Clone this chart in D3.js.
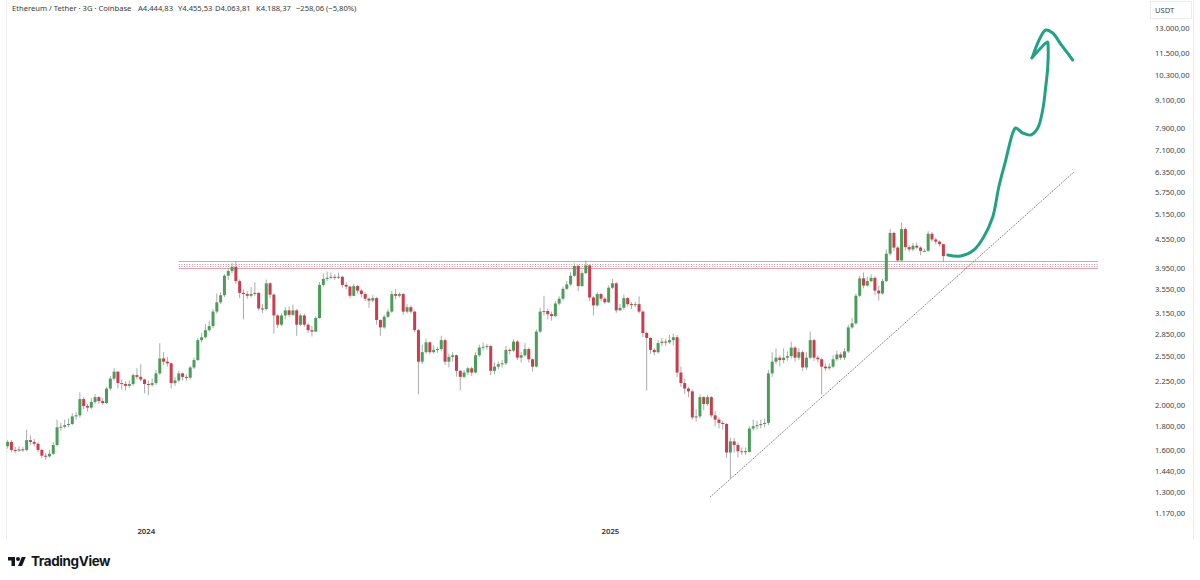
<!DOCTYPE html>
<html><head><meta charset="utf-8">
<script src="https://cdn.jsdelivr.net/npm/d3@7"></script>
<style>
html,body{margin:0;padding:0;background:#fff;}
svg{display:block;}
</style></head><body>
<svg id="chart" width="1200" height="580"></svg>
<script>
// ---------- DATA ----------
const startDate = "2023-09-14";   // first 3-day candle
const stepDays = 3;
const firstOpen = 1630;
const closes = [
1665,1600,1595,1605,1600,1680,1665,1650,1600,1555,
1550,1570,1640,1790,1795,1810,1820,1890,1900,2060,
1990,1975,2030,2080,2040,2020,2170,2280,2360,2230,
2220,2200,2220,2320,2300,2270,2220,2210,2230,2340,
2520,2480,2460,2230,2260,2340,2300,2290,2410,2500,
2760,2800,2900,2960,3180,3330,3450,3800,3890,3970,
3700,3490,3470,3440,3470,3490,3230,3220,3660,3460,
3120,2980,3120,3200,3130,3200,2980,3120,2980,2900,
2880,3080,3630,3740,3760,3780,3770,3780,3630,3600,
3440,3610,3530,3470,3390,3360,3400,3050,2940,3100,
3180,3470,3440,3470,3180,3250,3180,2900,2480,2600,
2730,2600,2630,2640,2760,2480,2540,2560,2370,2300,
2350,2400,2350,2560,2660,2670,2680,2370,2420,2450,
2460,2630,2620,2740,2530,2560,2640,2510,2420,2880,
3180,3190,3140,3110,3310,3390,3560,3640,3800,3990,
3610,3850,4000,3410,3280,3470,3390,3330,3580,3660,
3200,3240,3400,3300,3290,3300,3180,2860,2790,2630,
2600,2720,2740,2730,2760,2800,2350,2230,2170,2140,
1880,1890,2080,2010,2080,1900,1860,1830,1820,1580,
1670,1640,1590,1590,1585,1780,1800,1810,1820,1830,
2340,2480,2530,2500,2530,2550,2660,2530,2600,2410,
2530,2760,2530,2510,2420,2400,2420,2510,2570,2530,
2610,2940,3000,3440,3750,3620,3700,3760,3530,3480,
3700,4240,4700,4370,4100,4790,4380,4330,4410,4370,
4300,4300,4680,4550,4500,4444.83,4188.37];
const highs = [
1680,1680,1625,1630,1625,1770,1720,1690,1660,1610,
1575,1600,1665,1860,1830,1860,1870,1920,1930,2130,
2080,2010,2070,2110,2090,2070,2190,2310,2400,2370,
2270,2250,2260,2340,2400,2450,2280,2260,2280,2380,
2720,2600,2540,2470,2300,2370,2350,2330,2430,2530,
2790,2860,2990,3040,3220,3480,3500,3830,3940,4050,
4090,3730,3550,3520,3590,3680,3500,3300,3730,3680,
3480,3140,3150,3250,3260,3290,3220,3150,3150,3000,
2960,3110,3680,3840,3880,3860,3830,3860,3800,3680,
3620,3650,3630,3560,3500,3410,3450,3420,3060,3130,
3220,3520,3560,3500,3490,3300,3280,3200,2920,2700,
2780,2740,2690,2670,2820,2780,2580,2600,2570,2380,
2380,2420,2420,2600,2700,2730,2710,2690,2470,2480,
2500,2680,2650,2770,2760,2600,2720,2660,2520,2910,
3240,3440,3230,3180,3350,3430,3600,3700,3870,4040,
4010,3900,4100,4020,3430,3500,3490,3420,3620,3740,
3680,3300,3460,3420,3330,3340,3430,3200,2880,2800,
2650,2760,2790,2780,2830,2850,2830,2420,2280,2190,
2160,1960,2110,2090,2100,2090,1940,1880,1850,1830,
1700,1700,1660,1620,1620,1800,1860,1850,1860,1870,
2380,2600,2650,2560,2650,2610,2740,2680,2650,2620,
2600,2880,2780,2560,2530,2460,2460,2560,2620,2600,
2650,2980,3080,3480,3800,3860,3780,3830,3790,3620,
3740,4330,4790,4730,4400,4950,4830,4420,4470,4480,
4400,4350,4740,4720,4590,4530,4455.53];
const lows = [
1610,1585,1575,1585,1585,1590,1640,1630,1580,1535,
1525,1540,1560,1630,1760,1780,1790,1810,1860,1880,
1960,1935,1960,2010,2010,2000,2010,2150,2260,2170,
2160,2150,2180,2200,2270,2250,2120,2100,2190,2210,
2320,2440,2420,2170,2200,2240,2260,2260,2270,2390,
2490,2730,2780,2880,2930,3150,3300,3420,3720,3850,
3650,3400,3060,3390,3410,3440,3200,3160,3200,3400,
2850,2930,2960,3060,3100,3110,2820,2960,2950,2860,
2810,2870,3070,3600,3700,3730,3720,3740,3580,3550,
3400,3430,3480,3410,3350,3240,3330,2980,2820,2920,
3080,3160,3380,3410,3130,3150,3150,2870,2110,2450,
2580,2570,2580,2590,2610,2440,2410,2480,2300,2150,
2280,2320,2310,2340,2540,2620,2630,2320,2330,2390,
2410,2440,2570,2600,2500,2470,2540,2470,2360,2410,
2860,3120,3060,3040,3090,3280,3360,3540,3610,3780,
3520,3600,3830,3350,3120,3260,3350,3300,3320,3560,
3160,3190,3210,3260,3220,3250,3150,2800,2150,2580,
2560,2580,2680,2680,2710,2690,2300,2190,2110,2080,
1860,1840,1870,1950,1990,1880,1800,1780,1770,1540,
1385,1580,1540,1560,1560,1580,1760,1770,1780,1790,
1810,2300,2450,2420,2460,2490,2520,2480,2500,2370,
2380,2510,2490,2470,2110,2370,2380,2400,2490,2500,
2500,2590,2920,2980,3420,3570,3600,3680,3450,3360,
3460,3680,4200,4300,4060,4080,4310,4280,4290,4330,
4210,4270,4280,4500,4440,4390,4063.81];

const yTicks = [13000,11500,10300,9100,7900,7100,6350,5750,5150,4550,3950,3550,3150,2850,2550,2250,2000,1800,1600,1440,1300,1170];
const xTicks = ["2024-01-01","2025-01-01"];
const headerParts = ["Ethereum / Tether · 3G · Coinbase","A4.444,83","Y4.455,53","D4.063,81","K4.188,37","−258,06 (−5,80%)"];
const currencyLabel = "USDT";

// resistance zone
const zoneDates = ["2024-01-27","2026-01-21"];
const zoneLevels = [4080, 4021, 3989, 3950];
// rising trend line
const trendDates = ["2025-03-21","2026-01-02"];
const trendPrices = [1266, 6360];
// hand-drawn projection arrow (days after 2025-01-01, price)
const arrowShaftDays   = [266.5,276.7,287,294.8,301.9,306.7,312.2,317.7,320,325.6,331.9,337.4,341.3,343.7,345.3,345.6,345.2,339.8,332.7];
const arrowShaftPrices = [4212,4191,4317,4606,5086,5903,6750,7718,7913,7718,7643,7913,8652,9698,10712,11830,12126,11771,11200];
const arrowHeadDays    = [333.5,338.5,343.7,349.2,355.5,365];
const arrowHeadPrices  = [11310,12250,12871,12680,12008,11090];

// ---------- SCALES ----------
const svg = d3.select("#chart");
const parse = d3.utcParse("%Y-%m-%d");
const x = d3.scaleUtc().domain([parse("2023-09-08"), parse("2026-02-27")]).range([0, 1145]);
const y = d3.scaleLog().domain([1170, 13000]).range([513, 28]);
const locale = d3.formatLocale({decimal:",", thousands:".", grouping:[3], currency:["",""]});
const fmt = locale.format(",.2f");

const t0 = parse(startDate);
const candles = closes.map((c,i)=>({
  date: d3.utcDay.offset(t0, i*stepDays),
  o: i===0 ? firstOpen : closes[i-1],
  h: highs[i], l: lows[i], c: c
}));

const UP = "#4c9d59", DOWN = "#c93d4d", WICK = "#a3a3a3";
const FONT = "'Noto Sans', 'Open Sans', sans-serif";

// frame lines
svg.append("line").attr("x1",6.5).attr("x2",6.5).attr("y1",0).attr("y2",540).attr("stroke","#efefef");
svg.append("line").attr("x1",1193.5).attr("x2",1193.5).attr("y1",0).attr("y2",540).attr("stroke","#ececec");

// header
const hx = [12,138,178,215,256,296];
const header = svg.append("g").attr("font-family",FONT).attr("font-size","7.6px").attr("fill","#3a3a3a");
headerParts.forEach((t,i)=>{
  header.append("text").attr("x",hx[i]).attr("y",11).text(t);
});

// zone
const zx0 = x(parse(zoneDates[0])), zx1 = x(parse(zoneDates[1]));
zoneLevels.forEach((lv,i)=>{
  const edge = (i===0||i===3);
  svg.append("line").attr("x1",zx0).attr("x2",zx1).attr("y1",Math.round(y(lv))+0.5).attr("y2",Math.round(y(lv))+0.5)
    .attr("stroke", edge ? "#dba3ab" : "#b8606c")
    .attr("stroke-width", edge ? 1.2 : 0.7)
    .attr("stroke-dasharray", edge ? null : "1,1.6");
});

// trend line
svg.append("line")
  .attr("x1",x(parse(trendDates[0]))).attr("y1",y(trendPrices[0]))
  .attr("x2",x(parse(trendDates[1]))).attr("y2",y(trendPrices[1]))
  .attr("stroke","#555").attr("stroke-width",0.8).attr("stroke-dasharray","1.3,1.1");

// candles
const cg = svg.append("g");
cg.selectAll("line.wick").data(candles).join("line").attr("class","wick")
  .attr("x1",d=>x(d.date)).attr("x2",d=>x(d.date))
  .attr("y1",d=>y(d.h)).attr("y2",d=>y(d.l))
  .attr("stroke",WICK).attr("stroke-width",0.9);
cg.selectAll("rect.body").data(candles).join("rect").attr("class","body")
  .attr("x",d=>x(d.date)-1.5).attr("width",3)
  .attr("y",d=>y(Math.max(d.o,d.c)))
  .attr("height",d=>Math.max(1,Math.abs(y(d.o)-y(d.c))))
  .attr("fill",d=>d.c>=d.o?UP:DOWN);

// arrow
const base2025 = parse("2025-01-01");
const ap = (days,prices)=>days.map((d,i)=>[x(new Date(base2025.getTime()+d*864e5)), y(prices[i])]);
const line = d3.line().curve(d3.curveCatmullRom.alpha(0.5));
svg.append("path").attr("d",line(ap(arrowShaftDays,arrowShaftPrices)))
  .attr("fill","none").attr("stroke","#22a185").attr("stroke-width",3).attr("stroke-linecap","round").attr("stroke-linejoin","round");
svg.append("path").attr("d",line(ap(arrowHeadDays,arrowHeadPrices)))
  .attr("fill","none").attr("stroke","#22a185").attr("stroke-width",3).attr("stroke-linecap","round").attr("stroke-linejoin","round");

// y axis
const ya = svg.append("g").attr("transform","translate(1152,0)")
  .call(d3.axisRight(y).tickValues(yTicks).tickFormat(fmt).tickSize(0).tickPadding(3));
ya.select(".domain").remove();
ya.selectAll("text").attr("font-family",FONT).attr("font-size","7.6px").attr("fill","#444");

// currency label
svg.append("rect").attr("x",1150.5).attr("y",1.5).attr("width",41).attr("height",17)
  .attr("fill","#fff").attr("stroke","#ececec");
svg.append("text").attr("x",1155).attr("y",13).attr("font-family",FONT).attr("font-size","7.6px").attr("fill","#444").text(currencyLabel);

// x axis
const xa = svg.append("g").attr("transform","translate(0,525)")
  .call(d3.axisBottom(x).tickValues(xTicks.map(parse)).tickFormat(d3.utcFormat("%Y")).tickSize(0).tickPadding(3));
xa.select(".domain").remove();
xa.selectAll("text").attr("font-family",FONT).attr("font-size","7.8px").attr("font-weight","600").attr("fill","#333");

// TradingView logo
const logo = svg.append("g").attr("transform","translate(8,555) scale(0.5)").attr("fill","#131722");
logo.append("path").attr("d","M14 22H7V11H0V4h14v18zM28 22h-8l7.5-18h8L28 22z");
logo.append("circle").attr("cx",20).attr("cy",8).attr("r",4);
svg.append("text").attr("x",31).attr("y",566).attr("font-family","Inter, 'Noto Sans', sans-serif")
  .attr("font-size","13.5px").attr("font-weight","700").attr("fill","#131722").attr("letter-spacing","-0.4").text("TradingView");
</script>
</body></html>
